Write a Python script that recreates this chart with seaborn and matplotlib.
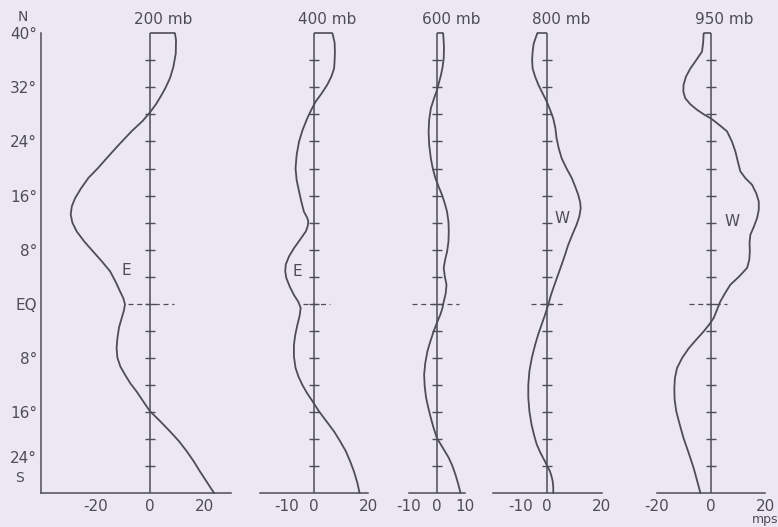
import numpy as np
import pandas as pd
import matplotlib
matplotlib.use("Agg")
import matplotlib.pyplot as plt
import seaborn as sns

# latitude (deg, + = north) and zonal wind (mps)
LAT_200 = [40, 39, 37, 35, 33.4, 32, 30.9, 29.5, 28.3, 27, 25.5, 23.5, 21.5, 20, 18.6, 17, 15.6,
           14.4, 13.2, 12, 10.7, 9.2, 7.7, 6.2, 4.8, 3.2, 1.8, 0.8, -0.1, -1, -2.1, -3.5, -5.1,
           -6.5, -8, -9.3, -10.5, -11.8, -13, -14.5, -15.9, -17.4, -18.9, -20.3, -21.8, -23.3,
           -24.8, -26.4, -28]
U_200 = [9.2, 9.6, 9.5, 8.6, 7.4, 5.8, 4.3, 2.2, 0, -2.8, -6.8, -11.5, -16, -19.3, -22.7, -25.5,
         -27.6, -28.8, -29.2, -28.6, -27, -24.2, -20.9, -17.6, -14.7, -12.6, -11, -9.8, -9.2,
         -9.6, -10.4, -11.4, -12, -12.3, -12, -10.9, -9.2, -7.2, -4.9, -2.4, 0, 3.8, 7.4, 10.6,
         13.5, 16.1, 18.4, 21, 23.6]

LAT_400 = [40, 38.6, 37.3, 36, 34.8, 33.6, 32.4, 31.1, 29.9, 28.6, 27.4, 25.7, 24, 22, 20, 18.3,
           16.6, 15, 13.6, 12.8, 12.2, 11.5, 10.7, 9.5, 8.2, 7, 5.8, 4.8, 3.8, 2.5, 1.3, 0.3,
           -0.6, -1.8, -3.1, -4.6, -6.1, -7.8, -9.5, -10.8, -12, -13.2, -14.4, -15.9, -17.4,
           -18.9, -20.4, -21.8, -23.3, -24.8, -26.4, -28]
U_400 = [6.8, 7.6, 7.7, 7.6, 7.4, 6.4, 4.9, 2.8, 0.6, -1.1, -2.5, -4.2, -5.5, -6.4, -6.8, -6.4,
         -5.5, -4.6, -3.7, -2.6, -2.1, -2.3, -3, -5.1, -7.4, -9.2, -10.4, -10.6, -10.2, -8.9,
         -7.4, -5.8, -4.9, -5.3, -6.1, -6.9, -7.4, -7.4, -6.8, -5.7, -4.3, -2.6, -0.6, 1.8,
         4.6, 7.4, 9.7, 11.7, 13.3, 14.7, 15.9, 16.8]

LAT_600 = [40, 38, 36.3, 35, 33.8, 32.7, 31.6, 30.2, 28.9, 27.2, 25.5, 23.5, 21.5, 20, 18.6, 17.3,
           16.1, 14.8, 13.6, 12.1, 10.7, 9.2, 7.7, 6.5, 5.3, 4, 2.8, 1.5, 0.3, -0.7, -1.6, -2.8,
           -4.1, -5.6, -7, -8.8, -10.5, -12.2, -13.9, -15.4, -16.9, -18.4, -19.9, -21.4, -22.8,
           -24, -25.3, -26.7, -28]
U_600 = [2.2, 2.5, 2.4, 2, 1.4, 0.7, 0, -1.2, -2.2, -2.8, -3, -2.8, -2.2, -1.5, -0.6, 0.6,
         1.8, 2.8, 3.6, 4.1, 4.2, 4.1, 3.6, 2.9, 2.4, 2.8, 3.4, 3.1, 2.4, 1.9, 1.2, 0,
         -1.2, -2.4, -3.4, -4.2, -4.6, -4.4, -3.9, -3.1, -2.2, -1.2, 0, 2.2, 4.2,
         5.5, 6.6, 7.6, 8.4]

LAT_800 = [40, 38.5, 37.3, 36, 34.8, 33.6, 32.4, 31.1, 29.9, 28.6, 27.4, 25.9, 24.5, 23, 21.5, 20,
           18.6, 17.3, 16.1, 15, 14.1, 12.9, 11.7, 10.2, 8.7, 7.2, 5.8, 4, 2.3, 1.1, -0.1, -1.6,
           -3.1, -4.6, -6.1, -8, -10, -12, -13.9, -15.9, -17.9, -19.4, -20.8, -22, -23.3, -24.1,
           -24.8, -25.6, -26.3, -27.2, -28]
U_800 = [-3.7, -5, -5.4, -5.6, -5.4, -4.5, -3.3, -1.7, -0.2, 1.1, 2.2, 3, 3.4, 4.2, 5.3, 7.1,
         9, 10.3, 11.4, 12.1, 12.3, 11.8, 10.8, 9.2, 7.7, 6.5, 5.3, 3.7, 2.2, 1.2, 0.4, -0.8,
         -2.1, -3.4, -4.5, -5.7, -6.6, -7, -7, -6.6, -5.8, -4.9, -3.9, -2.6, -0.9, 0.1,
         1, 1.6, 2, 2.2, 2.2]

LAT_950 = [40, 38.6, 37.3, 36, 34.8, 33.6, 32.4, 31.4, 30.4, 29.5, 28.7, 28, 27.4, 26.4, 25.5, 24,
           22.5, 21, 19.6, 18.6, 17.6, 16.3, 15.1, 13.9, 12.7, 11.4, 10.2, 9, 7.7, 6.5, 5.3, 4,
           2.8, 1.5, 0.3, -0.9, -2.1, -3.1, -4.1, -5.3, -6.6, -8, -9.5, -11, -12.5, -14.2,
           -15.9, -17.9, -19.9, -22.1, -24.3, -26.2, -28]
U_950 = [-2.7, -2.9, -3.3, -5.5, -7.6, -9.2, -10.1, -10.2, -9.5, -7.6, -5.2, -2.6, 0, 3.2, 5.9,
         7.7, 9, 9.9, 10.8, 12.6, 15.1, 16.7, 17.6, 17.6, 17, 15.8, 14.5, 14.2, 14.3, 14.1, 13.3,
         10.3, 7.1, 5.1, 3.4, 2.2, 1, -0.7, -2.7, -5.4, -8.2, -10.6, -12.5, -13.3, -13.5,
         -13.4, -12.8, -11.5, -10.1, -8.2, -6.4, -5.1, -3.9]

LEVELS = ["200 mb", "400 mb", "600 mb", "800 mb", "950 mb"]
LATS = [LAT_200, LAT_400, LAT_600, LAT_800, LAT_950]
WINDS = [U_200, U_400, U_600, U_800, U_950]

X_TICKS = [[-40, -30, -20, -10, 0, 10, 20, 30],
           [-20, -10, 0, 10, 20],
           [-10, 0, 10],
           [-20, -10, 0, 10, 20],
           [-20, -10, 0, 10, 20]]
X_LABELS = [["", "", "-20", "", "0", "", "20", ""],
            ["", "-10", "0", "", "20"],
            ["-10", "0", "10"],
            ["", "-10", "0", "", "20"],
            ["-20", "", "0", "", "20"]]

LAT_TICKS = list(range(-24, 41, 4))
LAT_LABELS = {40: "40°", 32: "32°", 24: "24°", 16: "16°", 8: "8°", 0: "EQ",
              -8: "8°", -16: "16°", -24: "24°"}

# E / W annotations (wind, lat) per panel
TAGS = [("E", -8.6, 4.9), ("E", -6.0, 4.7), None, ("W", 5.3, 12.6), ("W", 7.6, 12.1)]

# layout in pixels: left edge, right edge of each panel
PANEL_PX = [(41.4, 231.4), (259.7, 368.3), (409.0, 465.0), (493.0, 601.6), (656.7, 765.3)]
EQ_DASH = [(-8, 9), (-4, 6), (-9, 8), (-6, 6), (-8, 6)]
TOP_PX, BOT_PX = 33.3, 493.0
W, H = 778, 527

INK = "#4e4c56"
BG = "#ebe8f1"

sns.set_theme(style="white")
plt.rcParams["font.family"] = ["DejaVu Sans"]

fig = plt.figure(figsize=(W / 100, H / 100), dpi=100, facecolor=BG)

for i, level in enumerate(LEVELS):
    x0, x1 = PANEL_PX[i]
    ax = fig.add_axes([x0 / W, 1 - BOT_PX / H, (x1 - x0) / W, (BOT_PX - TOP_PX) / H])
    ax.set_facecolor("none")
    ticks = X_TICKS[i]
    ax.set_xlim(ticks[0], ticks[-1])
    ax.set_ylim(-28, 40)

    df = pd.DataFrame({"lat": LATS[i], "u": WINDS[i]})
    sns.lineplot(data=df, x="u", y="lat", orient="y", ax=ax, color=INK,
                 linewidth=1.3, legend=False, clip_on=False,
                 solid_joinstyle="round", solid_capstyle="round")
    # closing segment along the top of the profile
    ax.hlines(40, 0, WINDS[i][0], color=INK, linewidth=1.2, clip_on=False)

    # zero line with cross ticks
    ax.axvline(0, color=INK, linewidth=1.1)
    inner = [t for t in LAT_TICKS if -28 < t < 40]
    ax.plot(np.zeros(len(inner)), inner, ls="none", marker="_", markersize=7,
            markeredgewidth=1.0, color=INK)
    ax.hlines(0, EQ_DASH[i][0], EQ_DASH[i][1], color=INK, linewidth=0.9,
              linestyles=(0, (4, 3)))

    # bottom axis
    for side in ["top", "right"]:
        ax.spines[side].set_visible(False)
    ax.spines["bottom"].set_color(INK)
    ax.spines["bottom"].set_linewidth(1.1)
    ax.set_xticks(ticks)
    ax.set_xticklabels(X_LABELS[i])
    ax.tick_params(axis="x", direction="in", length=6, width=1.0, color=INK,
                   labelcolor=INK, labelsize=11, pad=4)

    if i == 0:
        ax.spines["left"].set_color(INK)
        ax.spines["left"].set_linewidth(1.1)
        ax.set_yticks(LAT_TICKS)
        ax.set_yticklabels([LAT_LABELS.get(t, "") for t in LAT_TICKS])
        ax.tick_params(axis="y", direction="in", length=6, width=1.0, color=INK,
                       labelcolor=INK, labelsize=11, pad=3)
        # raise the southern 24° a little so the S fits beneath it
        for lab in ax.get_yticklabels():
            if lab.get_text() == "24°" and lab.get_position()[1] < 0:
                lab.set_va("bottom")
    else:
        ax.spines["left"].set_visible(False)
        ax.set_yticks([])

    ax.set_xlabel("")
    ax.set_ylabel("")
    ax.text(5, 41.0, level, ha="center", va="bottom", fontsize=11, color=INK)

    if TAGS[i] is not None:
        tag, tu, tl = TAGS[i]
        ax.text(tu, tl, tag, ha="center", va="center", fontsize=11, color=INK)

    if i == 4:
        ax.annotate("mps", xy=(20, -28), xytext=(0, -19), textcoords="offset points",
                    ha="center", va="center", fontsize=9, color=INK)

fig.text(23 / W, 1 - 17 / H, "N", ha="center", va="center", fontsize=10, color=INK)
fig.text(20 / W, 1 - 478 / H, "S", ha="center", va="center", fontsize=10, color=INK)

fig.savefig("out.png", dpi=100, facecolor=BG)
